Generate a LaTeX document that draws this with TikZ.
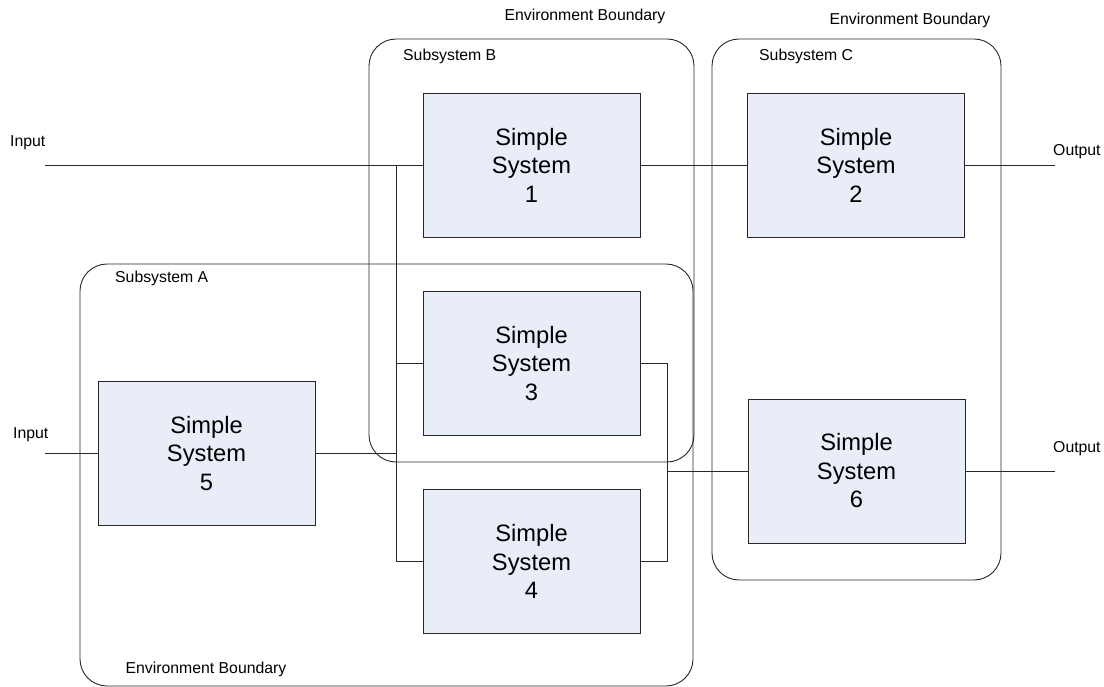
\documentclass[tikz,border=0pt]{standalone}
\usepackage{fontspec}
\setmainfont{Liberation Sans}
\definecolor{boxfill}{RGB}{232,237,247}
\definecolor{linec}{RGB}{40,40,40}
\tikzset{
  sysbox/.style={draw=linec, fill=boxfill, line width=0.9pt, minimum width=217pt, minimum height=144pt, inner sep=0pt, align=center, font=\fontsize{23.7}{28.5}\selectfont},
  boundary/.style={draw=linec, line width=0.9pt, rounded corners=27pt},
  wire/.style={draw=linec, line width=0.9pt},
  lbl/.style={inner sep=0pt, anchor=west, font=\fontsize{15.8}{19}\selectfont},
  clbl/.style={inner sep=0pt, font=\fontsize{15.8}{19}\selectfont}
}
\begin{document}
\begin{tikzpicture}[x=1pt,y=-1pt]
\useasboundingbox (0,0) rectangle (1104,687);
% boundaries
\draw[boundary] (369,39) rectangle (694,462);
\draw[boundary] (712,39) rectangle (1001,580);
\draw[boundary] (80,264) rectangle (693,686);
% labels
\node[clbl] (envB) at (585,16) {Environment Boundary};
\node[clbl] (envC) at (910,20) {Environment Boundary};
\node[clbl] (envA) at (206,669) {Environment Boundary};
\node[lbl] (subB) at (403,56) {Subsystem B};
\node[lbl] (subC) at (759,56) {Subsystem C};
\node[lbl] (subA) at (115,278) {Subsystem A};
\node[lbl] (inL1) at (10,143) {Input};
\node[lbl] (inL2) at (13,435) {Input};
\node[lbl] (outL1) at (1053,152) {Output};
\node[lbl] (outL2) at (1053,449) {Output};
% boxes
\node[sysbox] (b1) at (531.5,165) {Simple\\System\\1};
\node[sysbox] (b2) at (856,165) {Simple\\System\\2};
\node[sysbox] (b3) at (531.5,363.5) {Simple\\System\\3};
\node[sysbox] (b4) at (531.5,561.5) {Simple\\System\\4};
\node[sysbox] (b5) at (206.5,453.5) {Simple\\System\\5};
\node[sysbox] (b6) at (856.5,471) {Simple\\System\\6};
% junction / free-end coordinates
\coordinate (in1) at (45,165);
\coordinate (in2) at (45,453.5);
\coordinate (out1) at (1055,165);
\coordinate (out2) at (1055,471);
\coordinate (jL) at (396,165);
\coordinate (jR) at (667,363.5);
\coordinate (jR6) at (667,471);
% wires
\draw[wire] (in1) -- (b1.west);
\draw[wire] (jL) |- (b4.west);
\draw[wire] (b3.west) -- (b3.west -| jL);
\draw[wire] (b5.east) -- (b5.east -| jL);
\draw[wire] (in2) -- (b5.west);
\draw[wire] (b1.east) -- (b2.west);
\draw[wire] (b2.east) -- (out1);
\draw[wire] (b3.east) -- (jR) |- (b4.east);
\draw[wire] (jR6) -- (b6.west);
\draw[wire] (b6.east) -- (out2);
\end{tikzpicture}
\end{document}
